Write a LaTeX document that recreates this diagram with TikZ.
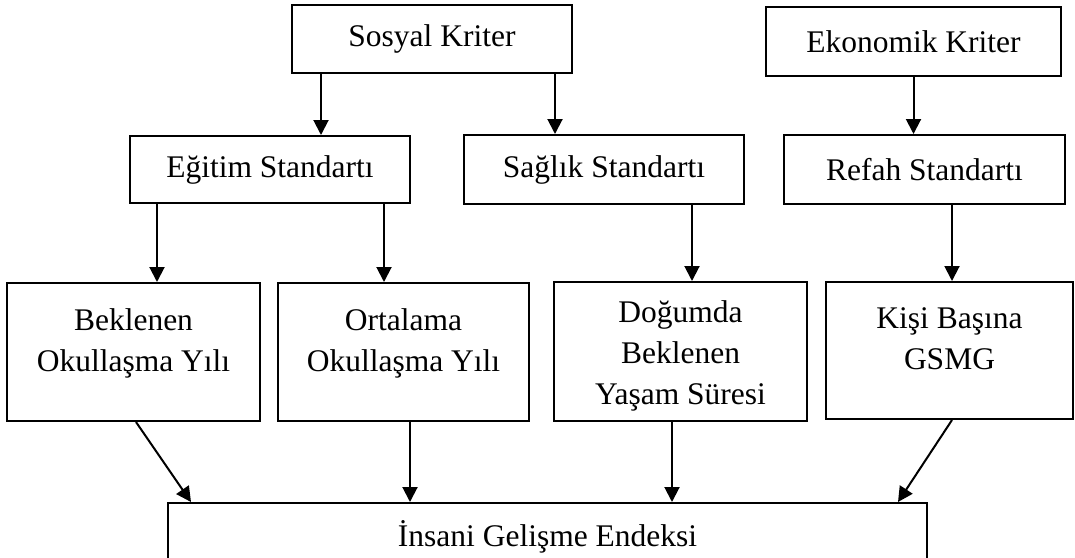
\documentclass[tikz,border=0pt]{standalone}
\usepackage{fontspec}
\setmainfont{Liberation Serif}
\usetikzlibrary{arrows.meta}

\begin{document}
\begin{tikzpicture}[
  >={Triangle[length=7.5pt,width=7.5pt]},
  box/.style={draw, line width=1pt, inner sep=0pt, align=center, font=\fontsize{15.75}{20.5}\selectfont},
  txt/.style={align=center, inner sep=0pt, font=\fontsize{15.75}{20.5}\selectfont},
  arrow/.style={->, line width=1pt}
]
\useasboundingbox (0,0) rectangle (537.5pt,-278.5pt);
\clip (0,0) rectangle (537.5pt,-278.5pt);

% criteria
\node[box, minimum width=140pt, minimum height=34pt] (sosyal) at (216pt,-19.5pt) {Sosyal Kriter};
\node[box, minimum width=147.5pt, minimum height=34.5pt] (ekonomik) at (456.75pt,-20.75pt) {Ekonomik Kriter};

% standards
\node[box, minimum width=140pt, minimum height=33.5pt] (egitim) at (135pt,-84.75pt) {Eğitim Standartı};
\node[box, minimum width=140pt, minimum height=34.5pt] (saglik) at (302pt,-84.75pt) {Sağlık Standartı};
\node[box, minimum width=140.5pt, minimum height=34.5pt] (refah) at (462.25pt,-84.75pt) {Refah Standartı};

% indicators
\node[box, minimum width=126.5pt, minimum height=69pt] (beklenen) at (66.75pt,-176pt) {};
\node[box, minimum width=125.5pt, minimum height=69pt] (ortalama) at (201.75pt,-176pt) {};
\node[box, minimum width=126.5pt, minimum height=69.5pt] (dogum) at (340.25pt,-175.75pt) {};
\node[box, minimum width=123.5pt, minimum height=68.5pt] (kisi) at (474.75pt,-175.25pt) {};
\node[txt] (beklenenT) at ([yshift=4.2pt]beklenen.center) {Beklenen\\Okullaşma Yılı};
\node[txt] (ortalamaT) at ([yshift=4.2pt]ortalama.center) {Ortalama\\Okullaşma Yılı};
\node[txt] (dogumT) at ([yshift=-2pt]dogum.center) {Doğumda\\Beklenen\\Yaşam Süresi};
\node[txt] (kisiT) at ([yshift=5.75pt]kisi.center) {Kişi Başına\\GSMG};

% index
\node[box, minimum width=379.5pt, minimum height=34pt] (insani) at (273.75pt,-268.5pt) {İnsani Gelişme Endeksi};

\draw[arrow] ([xshift=15pt]sosyal.south west) coordinate (s1) -- (s1 |- egitim.north);
\draw[arrow] ([xshift=-9pt]sosyal.south east) coordinate (s2) -- (s2 |- saglik.north);
\draw[arrow] (ekonomik.south) -- (ekonomik.south |- refah.north);

\draw[arrow] ([xshift=14pt]egitim.south west) coordinate (e1) -- (e1 |- beklenen.north);
\draw[arrow] ([xshift=-13.5pt]egitim.south east) coordinate (e2) -- (e2 |- ortalama.north);
\draw[arrow] ([xshift=44pt]saglik.south) coordinate (g1) -- (g1 |- dogum.north);
\draw[arrow] ([xshift=13.75pt]refah.south) coordinate (r1) -- (r1 |- kisi.north);

\draw[arrow] ([xshift=1.25pt]beklenen.south) -- ([xshift=12pt]insani.north west);
\draw[arrow] ([xshift=3.25pt]ortalama.south) coordinate (o1) -- (o1 |- insani.north);
\draw[arrow] ([xshift=-4.25pt]dogum.south) coordinate (d1) -- (d1 |- insani.north);
\draw[arrow] ([xshift=1.25pt]kisi.south) -- ([xshift=-15pt]insani.north east);

\end{tikzpicture}
\end{document}
